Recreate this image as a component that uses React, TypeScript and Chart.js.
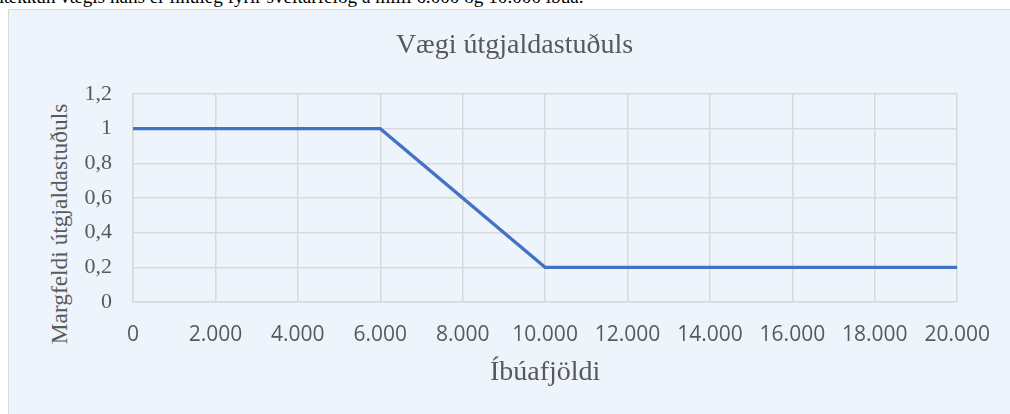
import React, { useEffect, useRef } from "react";
import { Chart, registerables } from "chart.js";

Chart.register(...registerables);

const populations = [0, 6000, 10000, 20000];
const weights = [1, 1, 0.2, 0.2];
const xTickLabels = ["0", "2.000", "4.000", "6.000", "8.000", "10.000", "12.000", "14.000", "16.000", "18.000", "20.000"];
const yTickLabels = ["0", "0,2", "0,4", "0,6", "0,8", "1", "1,2"];
const chartTitle = "Vægi útgjaldastuðuls";
const xTitle = "Íbúafjöldi";
const yTitle = "Margfeldi útgjaldastuðuls";
const introText = "lækkun vægis hans er línuleg fyrir sveitarfélög á milli 6.000 og 10.000 íbúa.";

const SERIF = "'Liberation Serif', 'Times New Roman', serif";
const SANS = "'Open Sans', 'Noto Sans', sans-serif";
const GRID = "#D9D9D9";
const TEXT = "#595959";

export default function App() {
  const ref = useRef<HTMLCanvasElement | null>(null);

  useEffect(() => {
    if (!ref.current) return;
    const chart = new Chart(ref.current, {
      type: "line",
      data: {
        datasets: [
          {
            data: populations.map((p, i) => ({ x: p, y: weights[i] })),
            borderColor: "#4472C4",
            borderWidth: 3.2,
            pointRadius: 0,
            fill: false,
            tension: 0,
          },
        ],
      },
      options: {
        animation: false,
        responsive: false,
        layout: { padding: { left: 71, right: 52, top: 0, bottom: 0 } },
        plugins: {
          legend: { display: false },
          tooltip: { enabled: false },
          title: {
            display: true,
            text: chartTitle,
            color: TEXT,
            font: { family: SERIF, size: 28, weight: "normal", lineHeight: 1.2 },
            padding: { top: 29, bottom: 31.4 },
          },
        },
        scales: {
          x: {
            type: "linear",
            min: 0,
            max: 20000,
            ticks: {
              stepSize: 2000,
              color: TEXT,
              font: { family: SANS, size: 21 },
              padding: 20,
              maxRotation: 0,
              autoSkip: false,
              callback: (_v: any, i: number) => xTickLabels[i],
            },
            grid: { color: GRID, lineWidth: 1.5, drawTicks: false },
            border: { color: GRID, width: 1.5 },
            title: {
              display: true,
              text: xTitle,
              color: TEXT,
              font: { family: SERIF, size: 28, weight: "normal", lineHeight: 1.2 },
              padding: { top: 0, bottom: 25 },
            },
            afterFit: (s: any) => {
              s.height = 112;
            },
          },
          y: {
            min: 0,
            max: 1.2,
            ticks: {
              stepSize: 0.2,
              color: TEXT,
              font: { family: SERIF, size: 22 },
              padding: 21,
              callback: (_v: any, i: number) => yTickLabels[i],
            },
            grid: { color: GRID, lineWidth: 1.5, drawTicks: false },
            border: { color: GRID, width: 1.5 },
            afterFit: (s: any) => {
              s.width = 62;
            },
          },
        },
      },
    });
    return () => chart.destroy();
  }, []);

  return (
    <div style={{ position: "fixed", left: 0, top: 0, width: 1010, height: 414, overflow: "hidden", background: "#fff" }}>
      <div
        style={{
          position: "absolute",
          left: -1,
          top: -13,
          fontFamily: SERIF,
          fontSize: 19.2,
          lineHeight: "20px",
          color: "#000",
          whiteSpace: "nowrap",
        }}
      >
        {introText}
      </div>
      <div
        style={{
          position: "absolute",
          left: 8,
          top: 9,
          width: 1030,
          height: 430,
          background: "#EDF4FB",
          borderLeft: "1px solid #D9D9D9",
          borderTop: "1px solid #D9D9D9",
        }}
      />
      <div
        style={{
          position: "absolute",
          left: 60,
          top: 224,
          transform: "translate(-50%, -50%) rotate(-90deg)",
          fontFamily: SERIF,
          fontSize: 23.4,
          color: TEXT,
          whiteSpace: "nowrap",
          lineHeight: 1,
        }}
      >
        {yTitle}
      </div>
      <canvas ref={ref} width={1010} height={414} style={{ position: "absolute", left: 0, top: 0 }} />
    </div>
  );
}
